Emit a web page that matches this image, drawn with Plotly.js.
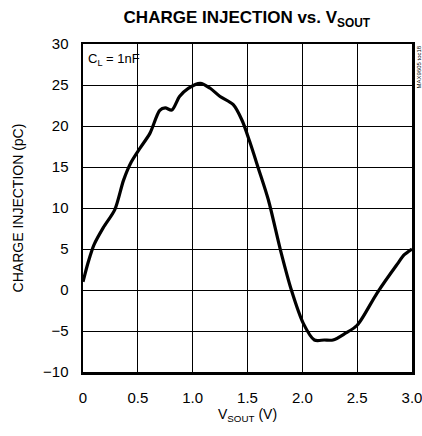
<!DOCTYPE html>
<html><head><meta charset="utf-8">
<script src="https://cdn.plot.ly/plotly-3.0.1.min.js"></script>
<style>html,body{margin:0;padding:0;background:#fff}#chart{width:422px;height:436px}</style>
</head><body><div id="chart"></div>
<script>
const vsout = [0, 0.05, 0.1, 0.185, 0.29, 0.37, 0.44, 0.52, 0.61, 0.70, 0.75, 0.81, 0.88, 0.96, 1.07, 1.16, 1.25, 1.37, 1.45, 1.52, 1.60, 1.69, 1.80, 1.90, 2.01, 2.11, 2.20, 2.28, 2.39, 2.50, 2.68, 2.86, 2.93, 3.0];
const chargeInj = [1.0, 3.5, 5.5, 7.6, 9.8, 13.4, 15.6, 17.3, 19.1, 21.9, 22.2, 21.95, 23.6, 24.6, 25.2, 24.6, 23.6, 22.6, 20.7, 18.1, 14.8, 11.0, 4.9, 0.0, -4.1, -6.1, -6.1, -6.1, -5.3, -4.3, -0.4, 3.05, 4.3, 5.0];
const xTickVals = [0, 0.5, 1.0, 1.5, 2.0, 2.5, 3.0];
const xTickText = ["0", "0.5", "1.0", "1.5", "2.0", "2.5", "3.0"];
const yTickVals = [-10, -5, 0, 5, 10, 15, 20, 25, 30];

const font = "'Liberation Sans Narrow', 'Liberation Sans', Arial, sans-serif";
const axisCommon = {
  showline: true, mirror: true, linecolor: '#000', linewidth: 2.5,
  showgrid: true, gridcolor: '#000', gridwidth: 1,
  zeroline: false, ticks: '', ticklabeloverflow: 'allow',
  tickfont: {family: font, size: 15, color: '#000'}
};
Plotly.newPlot('chart', [{
  x: vsout, y: chargeInj, type: 'scatter', mode: 'lines',
  line: {color: '#000', width: 3.2, shape: 'spline', smoothing: 0.8},
  hoverinfo: 'skip'
}], {
  width: 422, height: 436,
  margin: {l: 83, r: 10, t: 44, b: 64},
  paper_bgcolor: '#fff', plot_bgcolor: '#fff',
  showlegend: false,
  title: {text: '<b>CHARGE INJECTION vs. V<sub>SOUT</sub></b>', font: {family: font, size: 17, color: '#000'}, x: 0.585, xanchor: 'center', y: 0.96, yanchor: 'middle'},
  xaxis: Object.assign({}, axisCommon, {
    range: [0, 3.0], tickvals: xTickVals, ticktext: xTickText, ticklabelstandoff: 10,
    title: {text: 'V<sub>SOUT</sub> (V)', font: {family: font, size: 14, color: '#000'}, standoff: 5}
  }),
  yaxis: Object.assign({}, axisCommon, {
    range: [-10, 30], tickvals: yTickVals, ticklabelstandoff: 9,
    title: {text: 'CHARGE INJECTION (pC)', font: {family: font, size: 14, color: '#000'}, standoff: 16}
  }),
  annotations: [
    {xref: 'paper', yref: 'paper', x: 0.01, y: 0.985, xanchor: 'left', yanchor: 'top', showarrow: false,
     text: 'C<sub>L</sub> = 1nF', font: {family: font, size: 13, color: '#000'}},
    {xref: 'paper', yref: 'paper', x: 1.0, y: 1.0, xanchor: 'left', yanchor: 'top', xshift: 1, showarrow: false,
     textangle: -90, text: 'MAX9605 toc18', font: {family: font, size: 6, color: '#000'}}
  ]
}, {displayModeBar: false, staticPlot: true});
</script></body></html>
